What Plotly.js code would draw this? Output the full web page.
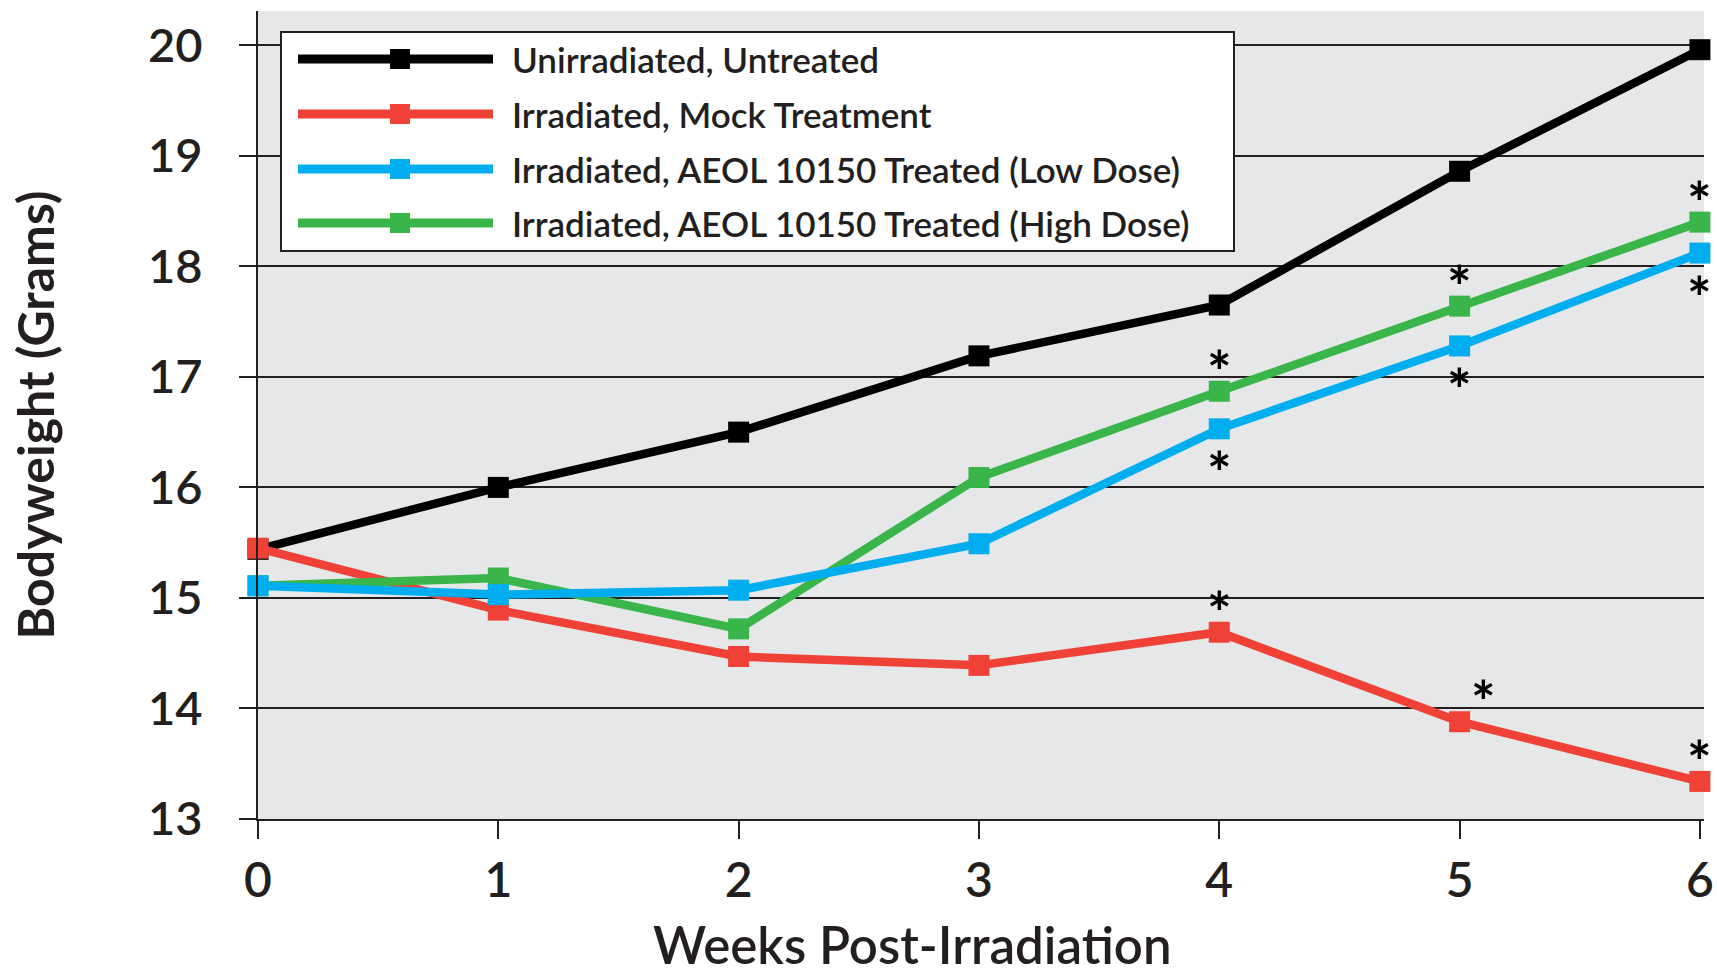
<!DOCTYPE html>
<html>
<head>
<meta charset="utf-8">
<script src="https://cdn.plot.ly/plotly-3.0.1.min.js"></script>
<style>
  html, body { margin: 0; padding: 0; background: #ffffff; }
  #chart { width: 1717px; height: 974px; }
</style>
</head>
<body>
<div id="chart"></div>
<script>
// ---------- data ----------
const weeks = [0, 1, 2, 3, 4, 5, 6];
const seriesNames = [
  "Unirradiated, Untreated",
  "Irradiated, Mock Treatment",
  "Irradiated, AEOL 10150 Treated (Low Dose)",
  "Irradiated, AEOL 10150 Treated (High Dose)"
];
const untreated = [15.44, 16.00, 16.50, 17.19, 17.65, 18.86, 19.96];
const mockTreatment = [15.45, 14.89, 14.47, 14.39, 14.69, 13.88, 13.34];
const lowDose = [15.11, 15.03, 15.07, 15.49, 16.53, 17.28, 18.12];
const highDose = [15.11, 15.18, 14.72, 16.09, 16.87, 17.64, 18.40];
const yTickValues = [13, 14, 15, 16, 17, 18, 19, 20];
const xTickValues = [0, 1, 2, 3, 4, 5, 6];
const xTitle = "Weeks Post-Irradiation";
const yTitle = "Bodyweight (Grams)";
// weeks marked significant (*)
const sigMock = [4, 5, 6];
const sigLow = [4, 5, 6];
const sigHigh = [4, 5, 6];

// ---------- styling ----------
const colors = ["#000000", "#ef4136", "#00aeef", "#39b54a"];
const W = 1717, H = 974;
const M = { l: 258, r: 13, t: 11, b: 155 };
const PW = W - M.l - M.r, PH = H - M.t - M.b;
const px = p => (p - M.l) / PW;           // pixel x -> paper x
const py = p => (H - M.b - p) / PH;       // pixel y -> paper y
const FONT = "Lato, 'Open Sans', 'Liberation Sans', sans-serif";
const ink = "#231f20";

const seriesData = [untreated, mockTreatment, lowDose, highDose];
const drawOrder = [0, 1, 3, 2];

const traces = drawOrder.map(i => ({
  x: weeks,
  y: seriesData[i],
  name: seriesNames[i],
  type: "scatter",
  mode: "lines+markers",
  line: { color: colors[i], width: 8.5 },
  marker: { color: colors[i], size: 21, symbol: "square" },
  cliponaxis: false,
  hoverinfo: "skip"
}));

// ---------- custom legend ----------
const shapes = [];
const annotations = [];
shapes.push({
  type: "rect", xref: "paper", yref: "paper",
  x0: px(281), x1: px(1234), y0: py(251), y1: py(32),
  fillcolor: "#ffffff", line: { color: ink, width: 2 }, layer: "above"
});
const rowY = [59, 114, 169, 223];
seriesNames.forEach((name, i) => {
  shapes.push({
    type: "line", xref: "paper", yref: "paper",
    x0: px(298), x1: px(493), y0: py(rowY[i]), y1: py(rowY[i]),
    line: { color: colors[i], width: 9 }, layer: "above"
  });
  shapes.push({
    type: "rect", xref: "paper", yref: "paper",
    x0: px(400 - 10), x1: px(400 + 10), y0: py(rowY[i] + 10), y1: py(rowY[i] - 10),
    fillcolor: colors[i], line: { width: 0 }, layer: "above"
  });
  annotations.push({
    text: name, xref: "paper", yref: "paper",
    x: px(510), y: py(rowY[i]), xanchor: "left", yanchor: "middle",
    showarrow: false, font: { family: FONT, size: 35, color: ink, weight: 600 }
  });
});

// ---------- x axis title (placed like the original, left of centre) ----------
annotations.push({
  text: xTitle, xref: "paper", yref: "paper",
  x: px(912), y: py(944), xanchor: "center", yanchor: "middle",
  showarrow: false, font: { family: FONT, size: 51, color: ink, weight: 600 }
});

// ---------- significance asterisks ----------
function addStars(series, sigWeeks, side) {
  sigWeeks.forEach(w => {
    const idx = weeks.indexOf(w);
    const right = (series === mockTreatment && w === 5) ? 24 : 0;
    annotations.push({
      text: "*", x: w, y: series[idx], xref: "x", yref: "y",
      showarrow: false, xanchor: "center", yanchor: "middle",
      xshift: right, yshift: side === "above" ? 21 : -43,
      font: { family: FONT, size: 58, color: "#000000", weight: 700 }
    });
  });
}
addStars(highDose, sigHigh, "above");
addStars(lowDose, sigLow, "below");
addStars(mockTreatment, sigMock, "above");

const layout = {
  width: W, height: H,
  margin: M,
  paper_bgcolor: "#ffffff",
  plot_bgcolor: "#e6e7e8",
  showlegend: false,
  font: { family: FONT, color: ink },
  xaxis: {
    range: [0, 6.017],
    tickvals: xTickValues,
    ticktext: xTickValues.map(String),
    ticks: "outside", ticklen: 18, tickwidth: 2, tickcolor: ink,
    showline: true, linewidth: 2, linecolor: ink,
    showgrid: false, zeroline: false,
    tickfont: { family: FONT, size: 48, color: ink, weight: 600 },
    ticklabelstandoff: 0
  },
  yaxis: {
    range: [13, 20.31],
    tickvals: yTickValues,
    ticktext: yTickValues.map(String),
    ticks: "outside", ticklen: 17, tickwidth: 2, tickcolor: ink,
    showline: true, linewidth: 2, linecolor: ink,
    showgrid: true, gridcolor: ink, gridwidth: 2, zeroline: false,
    tickfont: { family: FONT, size: 47, color: ink, weight: 600 },
    ticklabelstandoff: 27,
    title: { text: yTitle, standoff: 78,
             font: { family: FONT, size: 50, color: ink, weight: 700 } }
  },
  shapes: shapes,
  annotations: annotations
};

Plotly.newPlot("chart", traces, layout, { displayModeBar: false, staticPlot: true });
</script>
</body>
</html>
